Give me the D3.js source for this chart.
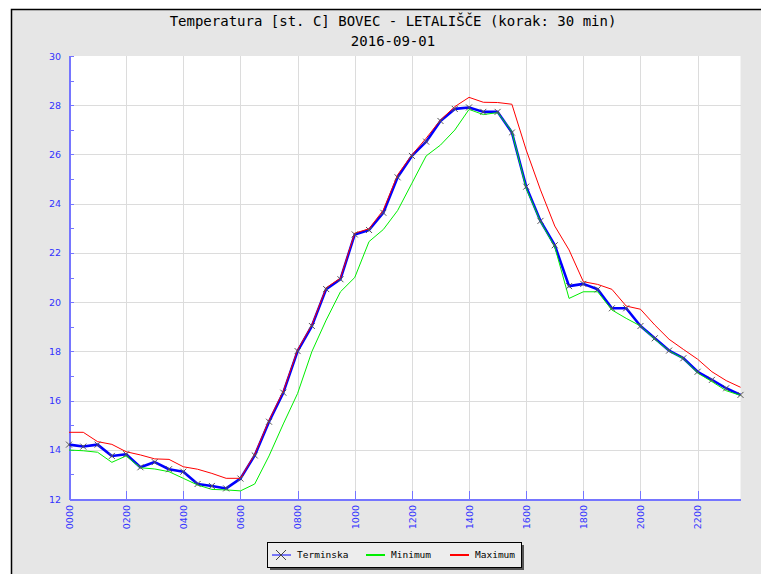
<!DOCTYPE html>
<html lang="sl">
<head>
<meta charset="utf-8">
<title>Temperatura BOVEC - LETALIŠČE</title>
<script src="https://cdn.jsdelivr.net/npm/d3@7"></script>
<style>
  body { margin: 0; background: #fff; }
  .axis path, .axis line { fill: none; stroke: #7575ff; shape-rendering: crispEdges; }
  .axis text { font-family: "DejaVu Sans", sans-serif; font-size: 9.5px; fill: #3333ff; }
  .grid line { stroke: #dcdcdc; shape-rendering: crispEdges; }
  .title { font-family: "DejaVu Sans Mono", monospace; font-size: 14px; fill: #000; }
  .legend text { font-family: "DejaVu Sans Mono", monospace; font-size: 9.5px; fill: #000; }
</style>
</head>
<body>
<script>
// half-hour slots, hours from midnight
var hours = [0,0.5,1,1.5,2,2.5,3,3.5,4,4.5,5,5.5,6,6.5,7,7.5,8,8.5,9,9.5,10,10.5,11,11.5,
             12,12.5,13,13.5,14,14.5,15,15.5,16,16.5,17,17.5,18,18.5,19,19.5,20,20.5,21,21.5,22,22.5,23,23.5]

var terminska = [14.21,14.13,14.21,13.75,13.82,13.29,13.50,13.21,13.11,12.61,12.53,12.43,
                 12.83,13.77,15.14,16.32,18.01,19.03,20.53,20.93,22.75,22.93,23.63,25.07,
                 25.94,26.52,27.36,27.85,27.91,27.73,27.73,26.89,24.69,23.30,22.31,20.65,
                 20.74,20.52,19.75,19.75,19.03,18.53,18.03,17.72,17.17,16.84,16.50,16.23]

var minimum = [13.99,13.96,13.90,13.49,13.75,13.27,13.22,13.11,12.84,12.57,12.39,12.37,
               12.33,12.61,13.75,15.05,16.29,17.99,19.27,20.42,21.00,22.46,22.95,23.72,
               24.83,25.94,26.38,26.99,27.83,27.62,27.70,26.93,24.62,23.27,22.25,20.15,
               20.42,20.42,19.68,19.34,19.03,18.49,18.02,17.70,17.12,16.77,16.40,16.21]

var maximum = [14.71,14.71,14.33,14.22,13.92,13.79,13.63,13.61,13.31,13.21,13.04,12.84,
               12.84,13.82,15.20,16.38,18.06,19.08,20.58,20.98,22.80,22.98,23.74,25.17,
               25.98,26.66,27.40,27.94,28.32,28.12,28.11,28.04,26.18,24.56,23.09,22.12,
               20.83,20.72,20.52,19.84,19.71,19.07,18.49,18.08,17.68,17.17,16.81,16.54]

var xTicks = [0,2,4,6,8,10,12,14,16,18,20,22]
var xTickLabels = ["0000","0200","0400","0600","0800","1000","1200","1400","1600","1800","2000","2200"]
var yTicks = [12,13,14,15,16,17,18,19,20,21,22,23,24,25,26,27,28,29,30]

var titleLines = ["Temperatura [st. C] BOVEC - LETALIŠČE (korak: 30 min)", "2016-09-01"]
var legendNames = ["Terminska","Minimum","Maximum"]
var colors = ["#0000ff","#00ee00","#ff0000"]

var w = 761, h = 574
var svg = d3.select("body").append("svg").attr("width", w).attr("height", h)

// frame
svg.append("rect").attr("x", 11).attr("y", 9).attr("width", w - 11).attr("height", h - 9)
   .attr("fill", "#e6e6e6")
svg.append("path").attr("d", "M11.5," + h + "V9.5H" + w)
   .attr("fill", "none").attr("stroke", "#000").attr("stroke-width", 1.5)

var pLeft = 69, pRight = 740.5, pTop = 56, pBottom = 499

var xScale = d3.scaleLinear().domain([0, 23.5]).range([pLeft, pRight])
var yScale = d3.scaleLinear().domain([12, 30]).range([pBottom, pTop])

svg.append("rect").attr("x", pLeft).attr("y", pTop)
   .attr("width", pRight - pLeft).attr("height", pBottom - pTop).attr("fill", "#fff")

// grid
var grid = svg.append("g").attr("class", "grid")
grid.selectAll(".gx").data(xTicks.slice(1)).enter().append("line")
    .attr("x1", function(d){ return Math.round(xScale(d)) + 0.5 })
    .attr("x2", function(d){ return Math.round(xScale(d)) + 0.5 })
    .attr("y1", pTop).attr("y2", pBottom)
grid.selectAll(".gy").data([14,16,18,20,22,24,26,28]).enter().append("line")
    .attr("y1", function(d){ return Math.round(yScale(d)) + 0.5 })
    .attr("y2", function(d){ return Math.round(yScale(d)) + 0.5 })
    .attr("x1", pLeft).attr("x2", pRight)

// axes
var yAxis = d3.axisLeft(yScale).tickValues(yTicks).tickSizeInner(-5).tickSizeOuter(0)
    .tickPadding(8).tickFormat(function(d){ return d % 2 === 0 ? d : "" })
svg.append("g").attr("class", "axis").attr("transform", "translate(" + pLeft + ",0)").call(yAxis)

var xAxis = d3.axisBottom(xScale).tickValues(xTicks).tickSizeInner(-8).tickSizeOuter(0)
    .tickFormat(function(d, i){ return xTickLabels[i] })
var gx = svg.append("g").attr("class", "axis").attr("transform", "translate(0," + pBottom + ")").call(xAxis)
gx.selectAll("text").attr("transform", "rotate(-90)")
  .attr("text-anchor", "end").attr("x", -6).attr("y", 0).attr("dy", "0.35em")
svg.selectAll(".axis .domain").attr("stroke-width", 2)

// lines
function lineOf(vals){
  return d3.line().x(function(d, i){ return xScale(hours[i]) }).y(function(d){ return yScale(d) })(vals)
}
svg.append("path").attr("d", lineOf(terminska)).attr("fill", "none")
   .attr("stroke", colors[0]).attr("stroke-width", 2.6).attr("stroke-linejoin", "round")
svg.append("path").attr("d", lineOf(minimum)).attr("fill", "none")
   .attr("stroke", colors[1]).attr("stroke-width", 1)
svg.append("path").attr("d", lineOf(maximum)).attr("fill", "none")
   .attr("stroke", colors[2]).attr("stroke-width", 1)

var cross = "M-3,-3L3,3M-3,3L3,-3"
svg.append("g").selectAll("path").data(terminska).enter().append("path")
   .attr("transform", function(d, i){ return "translate(" + xScale(hours[i]) + "," + yScale(d) + ")" })
   .attr("d", cross).attr("stroke", "#555").attr("stroke-width", 1).attr("fill", "none")

// title
svg.selectAll(".title").data(titleLines).enter().append("text").attr("class", "title")
   .attr("x", 393).attr("y", function(d, i){ return 26 + i * 20 })
   .attr("text-anchor", "middle").text(function(d){ return d })

// legend
var lg = svg.append("g").attr("class", "legend")
lg.append("rect").attr("x", 270).attr("y", 545).attr("width", 254).attr("height", 25).attr("fill", "#555")
lg.append("rect").attr("x", 267.5).attr("y", 542.5).attr("width", 254).attr("height", 25)
  .attr("fill", "#ededed").attr("stroke", "#000")
var lx = [272, 366, 450]
legendNames.forEach(function(name, i){
  var g = lg.append("g").attr("transform", "translate(" + lx[i] + ",555)")
  g.append("line").attr("x1", 0).attr("x2", 19).attr("stroke", colors[i]).attr("stroke-width", i === 0 ? 1 : 2)
  if (i === 0) g.append("path").attr("d", "M4,-5L14,5M4,5L14,-5").attr("stroke", "#444").attr("fill", "none")
  g.append("text").attr("x", 25).attr("dy", "0.35em").text(name)
})
</script>
</body>
</html>
